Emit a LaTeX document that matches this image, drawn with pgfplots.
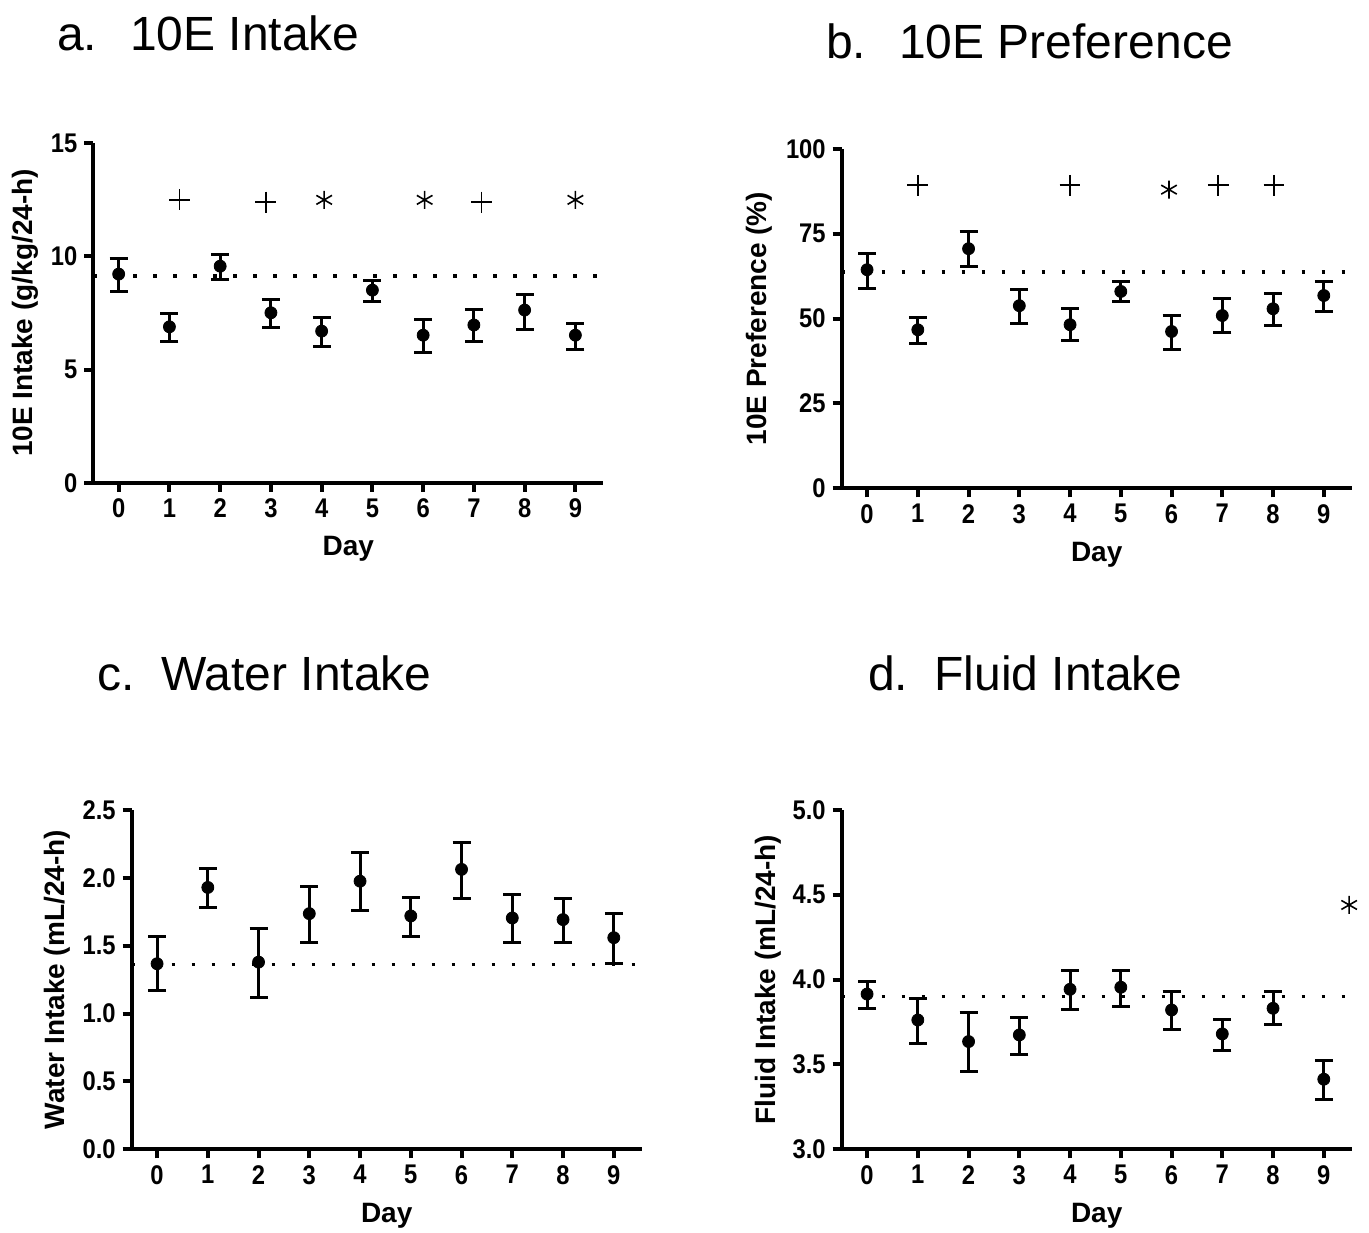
\documentclass[border=0pt]{standalone}
\usepackage{fontspec}
\setmainfont{Liberation Sans}
\newfontfamily\condsans[FakeStretch=0.88]{Liberation Sans}
\usepackage{pgfplots}
\pgfplotsset{compat=1.18}

\pgfplotsset{
  panel/.style={
    scale only axis, width=255pt, height=169.7pt,
    anchor=south west,
    axis x line*=bottom, axis y line*=left,
    axis line style={line width=2pt, -},
    xmin=-0.5, xmax=9.55,
    xtick={0,...,9},
    tick align=outside,
    major tick length=4.5pt,
    every tick/.style={line width=2pt, black},
    ticklabel style={font=\fontsize{13.5}{15}\selectfont\condsans\bfseries},
    /pgf/number format/assume math mode=true,
    label style={font=\fontsize{14}{16}\selectfont\bfseries},
    xlabel={Day},
    xlabel style={at={(axis description cs:0.5,-0.195)}, anchor=center},
    ylabel style={anchor=center},
    clip=false,
  },
  datapts/.style={only marks, mark=*, mark size=3pt, black,
    error bars/.cd, y dir=both, y explicit,
    error bar style={line width=1.5pt},
    error mark options={rotate=90, mark size=4.5pt, line width=1.5pt}},
  base/.style={black, line width=1.8pt, dash pattern=on 1.8pt off 8.2pt},
  plusm/.style={only marks, mark=+, mark size=5.2pt, line width=0.8pt, black},
  astm/.style={only marks, mark=asterisk, mark size=4.5pt, line width=0.8pt, black},
}

\begin{document}
\begin{tikzpicture}
\path[use as bounding box] (0,0) rectangle (684.5pt,-616pt);

% titles
\node[anchor=base west, font=\fontsize{24}{28}\selectfont] at (25pt,-25pt) {a.\hspace{0.69em}10E Intake};
\node[anchor=base west, font=\fontsize{24}{28}\selectfont] at (409.5pt,-29pt) {b.\hspace{0.69em}10E Preference};
\node[anchor=base west, font=\fontsize{24}{28}\selectfont] at (45pt,-345pt) {c.\hspace{0.56em}Water Intake};
\node[anchor=base west, font=\fontsize{24}{28}\selectfont] at (430.5pt,-345pt) {d.\hspace{0.55em}Fluid Intake};

% a. 10E intake
\begin{axis}[panel, at={(46.65pt,-241.35pt)},
  ymin=0, ymax=15, ytick={0,5,10,15},
  ylabel={10E Intake (g/kg/24-h)},
  ylabel style={at={(axis description cs:-0.133,0.5)}}]
\addplot[base] coordinates {(-0.5,9.13) (9.5,9.13)};
\addplot[datapts] table[x=x, y=y, y error plus=ep, y error minus=em] {
x y ep em
0 9.22 0.69 0.75
1 6.89 0.59 0.66
2 9.57 0.52 0.57
3 7.51 0.59 0.65
4 6.70 0.59 0.66
5 8.51 0.44 0.51
6 6.52 0.71 0.78
7 6.97 0.70 0.74
8 7.63 0.71 0.84
9 6.52 0.52 0.63
};
\addplot[plusm] coordinates {(1.2,12.5) (2.9,12.4) (7.15,12.4)};
\addplot[astm] coordinates {(4.05,12.5) (6.03,12.5) (9.0,12.5)};
\end{axis}

% b. 10E preference
\begin{axis}[panel, at={(420.85pt,-244.15pt)},
  ymin=0, ymax=100, ytick={0,25,50,75,100},
  ylabel={10E Preference (\%)},
  ylabel style={at={(axis description cs:-0.161,0.5)}}]
\addplot[base] coordinates {(-0.5,63.7) (9.5,63.7)};
\addplot[datapts] table[x=x, y=y, y error plus=ep, y error minus=em] {
x y ep em
0 64.4 4.7 5.4
1 46.7 3.6 4.1
2 70.6 5.1 5.2
3 53.8 4.9 5.1
4 48.2 4.7 4.7
5 58.0 3.0 2.9
6 46.2 4.6 5.2
7 50.9 4.9 5.0
8 52.9 4.4 4.9
9 56.8 4.2 4.7
};
\addplot[plusm] coordinates {(1.0,89.3) (4.0,89.3) (6.92,89.3) (8.02,89.3)};
\addplot[astm] coordinates {(5.95,88)};
\end{axis}

% c. water intake
\begin{axis}[panel, at={(65.85pt,-574.65pt)},
  ymin=0, ymax=2.5, ytick={0,0.5,...,2.5},
  yticklabel style={/pgf/number format/.cd, fixed, fixed zerofill, precision=1},
  ylabel={Water Intake (mL/24-h)},
  ylabel style={at={(axis description cs:-0.145,0.5)}}]
\addplot[base] coordinates {(-0.5,1.362) (9.5,1.362)};
\addplot[datapts] table[x=x, y=y, y error plus=ep, y error minus=em] {
x y ep em
0 1.367 0.202 0.197
1 1.929 0.140 0.148
2 1.379 0.251 0.258
3 1.736 0.197 0.214
4 1.975 0.210 0.219
5 1.719 0.136 0.148
6 2.062 0.199 0.215
7 1.704 0.173 0.177
8 1.692 0.155 0.165
9 1.559 0.177 0.192
};
\end{axis}

% d. fluid intake
\begin{axis}[panel, at={(420.85pt,-574.65pt)},
  ymin=3, ymax=5, ytick={3,3.5,...,5},
  yticklabel style={/pgf/number format/.cd, fixed, fixed zerofill, precision=1},
  ylabel={Fluid Intake (mL/24-h)},
  ylabel style={at={(axis description cs:-0.145,0.5)}}]
\addplot[base] coordinates {(-0.5,3.90) (9.5,3.90)};
\addplot[datapts] table[x=x, y=y, y error plus=ep, y error minus=em] {
x y ep em
0 3.915 0.073 0.084
1 3.762 0.124 0.137
2 3.635 0.171 0.177
3 3.674 0.102 0.118
4 3.943 0.110 0.122
5 3.955 0.098 0.114
6 3.821 0.108 0.112
7 3.680 0.086 0.098
8 3.831 0.098 0.098
9 3.413 0.108 0.122
};
\addplot[astm] coordinates {(9.5,4.44)};
\end{axis}
\end{tikzpicture}
\end{document}
